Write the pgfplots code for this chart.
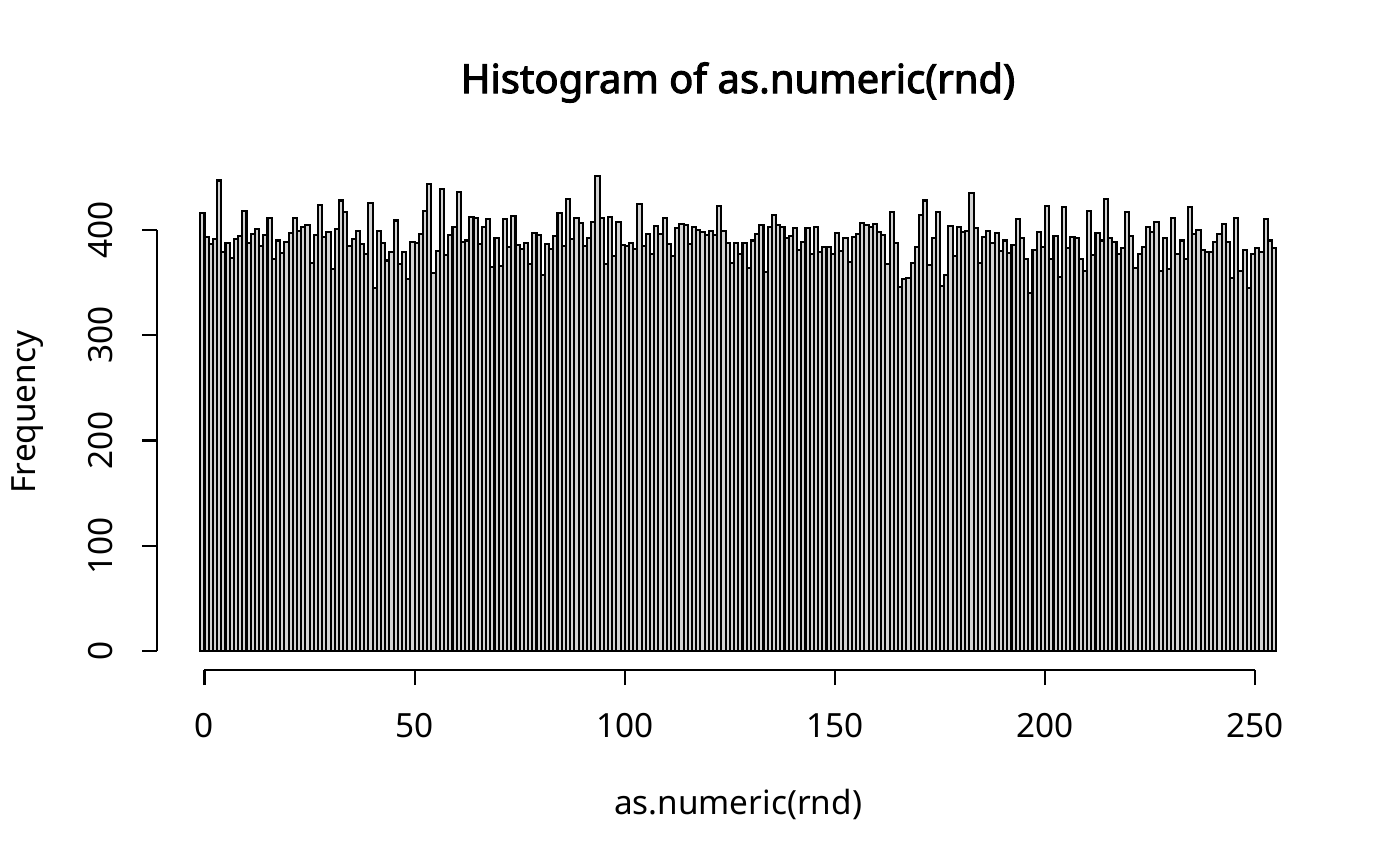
\documentclass[border=0pt]{standalone}
\usepackage{pgfplots}
\pgfplotsset{compat=1.18}
\usepackage{pgfplotstable}
\usepackage{fontspec}
\setmainfont{Noto Sans}
\newfontfamily\titlefont{Noto Sans}[FakeBold=2.5]

% counts per byte value 0..255 (bins (-1,0], (0,1], ...); x = left edge of bin
\pgfplotstableread{
x y
-1 416
0 393
1 387
2 391
3 447
4 379
5 388
6 373
7 391
8 394
9 418
10 388
11 396
12 401
13 385
14 395
15 411
16 372
17 390
18 378
19 389
20 397
21 411
22 399
23 403
24 405
25 369
26 395
27 424
28 393
29 398
30 363
31 401
32 428
33 417
34 385
35 391
36 399
37 387
38 377
39 426
40 345
41 399
42 388
43 371
44 379
45 409
46 368
47 379
48 353
49 389
50 388
51 396
52 418
53 444
54 359
55 380
56 439
57 376
58 395
59 403
60 436
61 389
62 390
63 412
64 411
65 387
66 403
67 410
68 365
69 392
70 366
71 410
72 384
73 413
74 386
75 382
76 388
77 368
78 397
79 395
80 357
81 387
82 382
83 394
84 416
85 385
86 429
87 391
88 411
89 407
90 385
91 392
92 408
93 451
94 411
95 368
96 412
97 375
98 408
99 386
100 385
101 388
102 382
103 425
104 385
105 396
106 377
107 404
108 396
109 411
110 387
111 375
112 402
113 406
114 405
115 387
116 403
117 400
118 398
119 395
120 399
121 395
122 423
123 399
124 388
125 369
126 388
127 377
128 388
129 364
130 390
131 396
132 405
133 360
134 403
135 414
136 405
137 403
138 392
139 394
140 402
141 381
142 389
143 402
144 377
145 403
146 379
147 384
148 384
149 377
150 397
151 380
152 392
153 370
154 393
155 396
156 407
157 405
158 403
159 406
160 398
161 395
162 368
163 417
164 388
165 346
166 353
167 354
168 369
169 384
170 414
171 428
172 367
173 392
174 417
175 347
176 357
177 404
178 375
179 403
180 398
181 399
182 435
183 402
184 369
185 393
186 399
187 388
188 397
189 380
190 390
191 378
192 386
193 410
194 392
195 372
196 340
197 381
198 398
199 384
200 423
201 372
202 394
203 355
204 422
205 383
206 393
207 392
208 372
209 361
210 418
211 376
212 397
213 390
214 429
215 392
216 389
217 377
218 383
219 417
220 394
221 364
222 377
223 384
224 403
225 398
226 408
227 361
228 392
229 363
230 411
231 377
232 390
233 372
234 422
235 396
236 400
237 381
238 379
239 379
240 389
241 396
242 406
243 389
244 354
245 411
246 361
247 381
248 345
249 377
250 383
251 379
252 410
253 390
254 383
255 383
}\counts

\begin{document}
\begin{tikzpicture}
\useasboundingbox (0,0) rectangle (504pt,311.76pt);
\begin{axis}[
    at={(56.61pt,70.56pt)}, anchor=south west,
    scale only axis,
    width=418.33pt, height=184.57pt,
    xmin=-11.24, xmax=265.24,
    ymin=-18.04, ymax=469.04,
    axis lines*=left,
    axis line style={draw=none},
    tick align=outside,
    major tick length=5.4pt,
    tick style={black, line width=0.75pt},
    xtick={0,50,...,250},
    ytick={0,100,...,400},
    /pgf/number format/assume math mode=true,
    ticklabel style={font=\fontsize{12}{14}\selectfont},
    xticklabel style={yshift=-6.5pt},
    yticklabel style={rotate=90, anchor=south},
    yticklabel shift=7.2pt,
    clip=false,
]
\addplot[ybar interval, fill={rgb,255:red,211;green,211;blue,211}, draw=black, line width=0.75pt] table[x=x, y=y] {\counts};
\draw[line width=0.75pt] (axis cs:0,-18.04) -- (axis cs:250,-18.04);
\draw[line width=0.75pt] (axis cs:-11.24,0) -- (axis cs:-11.24,400);
\end{axis}
\node[anchor=base, font=\fontsize{14.4}{17}\selectfont\titlefont] at (265.68pt,278.28pt) {Histogram of as.numeric(rnd)};
\node[anchor=base, font=\fontsize{12}{14}\selectfont] at (265.68pt,18.72pt) {as.numeric(rnd)};
\node[anchor=base, rotate=90, font=\fontsize{12}{14}\selectfont] at (12.96pt,163.44pt) {Frequency};
\end{tikzpicture}
\end{document}
